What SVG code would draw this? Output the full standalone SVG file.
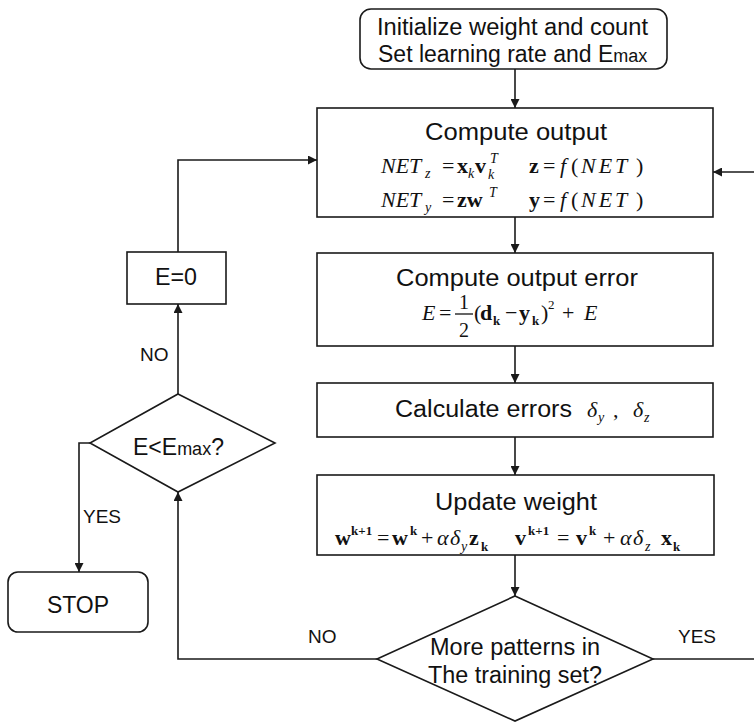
<svg xmlns="http://www.w3.org/2000/svg" width="754" height="722" viewBox="0 0 754 722">
  <style>
    .box { fill: #ffffff; stroke: #1a1a1a; stroke-width: 1.6; }
    .line { fill: none; stroke: #1a1a1a; stroke-width: 1.6; }
    .arrow { marker-end: url(#head); }
    .t { font-family: "Liberation Sans", Arial, sans-serif; fill: #111; font-size: 23px; }
    .lbl { font-family: "Liberation Sans", Arial, sans-serif; fill: #111; font-size: 19px; }
    .m { font-family: "Liberation Serif", "Times New Roman", serif; fill: #111; font-size: 22px; }
    .i { font-style: italic; }
    .b { font-weight: bold; }
    .s { font-size: 14px; }
    .sp { letter-spacing: 3px; }
  </style>
  <defs>
    <marker id="head" viewBox="0 0 10 10" refX="10" refY="5" markerUnits="userSpaceOnUse" markerWidth="10" markerHeight="9" orient="auto">
      <path d="M0,0 L10,5 L0,10 z" fill="#1a1a1a"/>
    </marker>
  </defs>

  <!-- connectors -->
  <g id="connectors">
    <path class="line arrow" d="M515,69 V108"/>
    <path class="line arrow" d="M515,217 V253"/>
    <path class="line arrow" d="M515,346 V383"/>
    <path class="line arrow" d="M515,437 V475"/>
    <path class="line arrow" d="M515,555 V596"/>
    <path class="line arrow" d="M377,659 H178 V492"/>
    <path class="line" d="M653,659 H754"/>
    <path class="line arrow" d="M754,172 H713"/>
    <path class="line arrow" d="M178,394 V304"/>
    <path class="line arrow" d="M178,252 V160 H317"/>
    <path class="line arrow" d="M90,443 H79 V572"/>
    <text class="lbl" x="140" y="361">NO</text>
    <text class="lbl" x="83" y="523">YES</text>
    <text class="lbl" x="308" y="643">NO</text>
    <text class="lbl" x="678" y="643">YES</text>
  </g>

  <!-- start -->
  <g id="init">
    <rect class="box" x="360" y="9" width="307" height="60" rx="11"/>
    <text class="t" x="377" y="35" textLength="271" lengthAdjust="spacingAndGlyphs">Initialize weight and count</text>
    <text class="t" x="378" y="62">Set learning rate and E<tspan font-size="18">max</tspan></text>
  </g>

  <!-- forward pass -->
  <g id="compute-output">
    <rect class="box" x="317" y="108" width="396" height="109"/>
    <text class="t" x="425" y="140" textLength="182" lengthAdjust="spacingAndGlyphs">Compute output</text>
    <g class="m" font-size="23">
      <text class="i" x="381" y="173">NET</text>
      <text class="i s" x="425" y="178">z</text>
      <text x="442" y="173">=</text>
      <text class="b" x="457" y="173">x</text>
      <text class="i s" x="468" y="178">k</text>
      <text class="b" x="475" y="173">v</text>
      <text class="i s" x="488" y="179">k</text>
      <text class="i s" x="490" y="163">T</text>
      <text class="b" x="529" y="173">z</text>
      <text x="543" y="173">=</text>
      <text class="i" x="560" y="173">f</text>
      <text x="571" y="173">(</text>
      <text class="i sp" x="581" y="173">NET</text>
      <text x="636" y="173">)</text>

      <text class="i" x="381" y="207">NET</text>
      <text class="i s" x="425" y="212">y</text>
      <text x="442" y="207">=</text>
      <text class="b" x="457" y="207">zw</text>
      <text class="i s" x="489" y="197">T</text>
      <text class="b" x="529" y="207">y</text>
      <text x="543" y="207">=</text>
      <text class="i" x="560" y="207">f</text>
      <text x="571" y="207">(</text>
      <text class="i sp" x="581" y="207">NET</text>
      <text x="636" y="207">)</text>
    </g>
  </g>

  <g id="compute-error">
    <rect class="box" x="317" y="253" width="396" height="93"/>
    <text class="t" x="396" y="286" textLength="242" lengthAdjust="spacingAndGlyphs">Compute output error</text>
    <g class="m">
      <text class="i" x="422" y="320">E</text>
      <text x="439" y="320">=</text>
      <text x="459" y="309" font-size="20">1</text>
      <line x1="455" y1="314" x2="473" y2="314" stroke="#111" stroke-width="1.3"/>
      <text x="459" y="337" font-size="20">2</text>
      <text x="474" y="320">(</text>
      <text class="b" x="480" y="320">d</text>
      <text class="b" x="493" y="325" font-size="13">k</text>
      <text x="505" y="320">−</text>
      <text class="b" x="519" y="320">y</text>
      <text class="b" x="532" y="325" font-size="13">k</text>
      <text x="541" y="320">)</text>
      <text x="548" y="309" font-size="13">2</text>
      <text x="562" y="320">+</text>
      <text class="i" x="584" y="320">E</text>
    </g>
  </g>

  <g id="calc-errors">
    <rect class="box" x="317" y="383" width="396" height="54"/>
    <text class="t" x="395" y="417" textLength="177" lengthAdjust="spacingAndGlyphs">Calculate errors</text>
    <g class="m">
      <text class="i" x="587" y="417">δ</text>
      <text class="i s" x="598" y="422">y</text>
      <text x="613" y="417">,</text>
      <text class="i" x="633" y="417">δ</text>
      <text class="i s" x="644" y="422">z</text>
    </g>
  </g>

  <g id="update-weight">
    <rect class="box" x="317" y="475" width="397" height="80"/>
    <text class="t" x="435" y="510" textLength="162" lengthAdjust="spacingAndGlyphs">Update weight</text>
    <g class="m">
      <text class="b" x="335" y="545">w</text>
      <text class="b" x="351" y="535" font-size="13">k+1</text>
      <text x="377" y="545">=</text>
      <text class="b" x="392" y="545">w</text>
      <text class="b" x="410" y="535" font-size="13">k</text>
      <text x="421" y="545">+</text>
      <text class="i" x="437" y="545">α</text>
      <text class="i" x="450" y="545">δ</text>
      <text class="i s" x="461" y="551">y</text>
      <text class="b" x="469" y="545">z</text>
      <text class="b" x="481" y="551" font-size="13">k</text>

      <text class="b" x="515" y="545">v</text>
      <text class="b" x="528" y="535" font-size="13">k+1</text>
      <text x="557" y="545">=</text>
      <text class="b" x="576" y="545">v</text>
      <text class="b" x="589" y="535" font-size="13">k</text>
      <text x="603" y="545">+</text>
      <text class="i" x="620" y="545">α</text>
      <text class="i" x="633" y="545">δ</text>
      <text class="i s" x="645" y="551">z</text>
      <text class="b" x="661" y="545">x</text>
      <text class="b" x="673" y="551" font-size="13">k</text>
    </g>
  </g>

  <!-- loop test -->
  <g id="more-patterns">
    <polygon class="box" points="515,596 653,659 515,721 377,659"/>
    <text class="t" x="430" y="655" font-size="20" textLength="170" lengthAdjust="spacingAndGlyphs">More patterns in</text>
    <text class="t" x="428" y="683" font-size="20" textLength="174" lengthAdjust="spacingAndGlyphs">The training set?</text>
  </g>

  <!-- stop test -->
  <g id="error-test">
    <polygon class="box" points="178,394 275,443 178,492 90,443"/>
    <text class="t" x="133" y="455">E&lt;E<tspan font-size="18">max</tspan>?</text>
  </g>

  <g id="reset-error">
    <rect class="box" x="127" y="252" width="99" height="52"/>
    <text class="t" x="155" y="285" textLength="42" lengthAdjust="spacingAndGlyphs">E=0</text>
  </g>

  <g id="stop">
    <rect class="box" x="8" y="572" width="140" height="60" rx="10"/>
    <text class="t" x="78" y="613" font-size="24" text-anchor="middle">STOP</text>
  </g>
</svg>
